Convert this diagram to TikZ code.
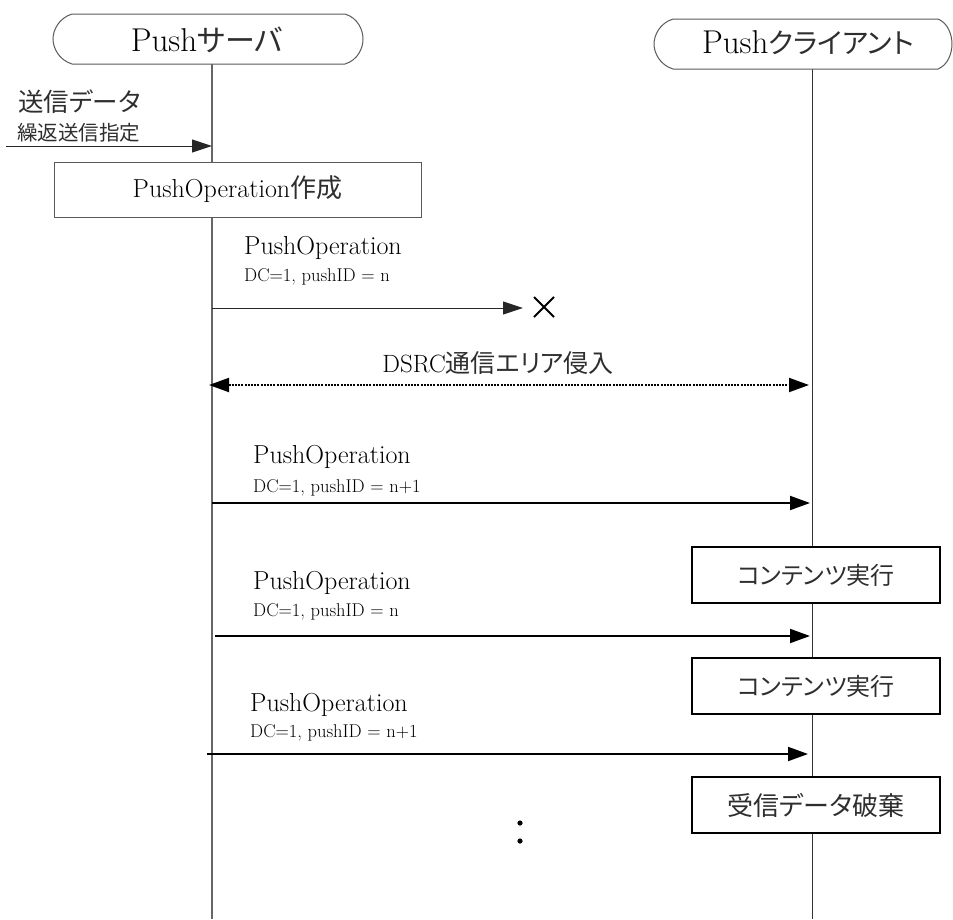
\documentclass[tikz,border=0pt]{standalone}
\usepackage{fontspec}
\newfontfamily\jpfont[RawFeature=+palt]{Noto Sans CJK JP}
\usetikzlibrary{arrows.meta,calc}
\newcommand\jptext[2]{{\fontsize{#1}{#1}\jpfont\color{black!82}#2}}
\newcommand\lat[1]{\fontsize{#1}{#1}\selectfont}
\definecolor{lgray}{HTML}{5A5A5A}
\tikzset{
  thinline/.style={draw=lgray,line width=1pt},
  msgthin/.style={draw=black!85,line width=1pt,-{Triangle[length=20pt,width=13pt]}},
  msgthick/.style={draw=black,line width=2pt,-{Triangle[length=20pt,width=14pt]}},
  msgdsrc/.style={draw=black,line width=2pt,dash pattern=on 2pt off 1.2pt,
     {Triangle[length=20pt,width=14pt]}-{Triangle[length=20pt,width=14pt]}},
  procthin/.style={draw=lgray,line width=1pt,fill=white,inner sep=0pt},
  procthick/.style={draw=black,line width=2pt,fill=white,inner sep=0pt},
  lbl/.style={anchor=west,inner sep=0pt},
}
\begin{document}
\begin{tikzpicture}[x=1pt,y=-1pt]
\useasboundingbox (0,0) rectangle (953,919);
% lifelines
\coordinate (stop) at (212,64);
\coordinate (sbot) at (212,919);
\coordinate (ctop) at (812,69);
\coordinate (cbot) at (812,919);
\draw[draw=black!60,line width=1.2pt] (stop) -- (sbot);
\draw[draw=black!80,line width=1pt] (ctop) -- (cbot);
% heads
\draw[thinline,fill=white] (72,14) -- (345,14) .. controls (358,18) and (363,30) .. (363,39)
   .. controls (363,48) and (358,60) .. (345,64) -- (72,64)
   .. controls (59,60) and (53,48) .. (53,39) .. controls (53,30) and (59,18) .. (72,14) -- cycle;
\node (server) at (207,40) {\lat{33}Push\jptext{30}{サーバ}};
\draw[thinline,fill=white] (673,19) -- (938,19) .. controls (948,23) and (952,35) .. (952,44)
   .. controls (952,53) and (948,65) .. (938,69) -- (673,69)
   .. controls (660,65) and (654,53) .. (654,44) .. controls (654,35) and (660,23) .. (673,19) -- cycle;
\node (client) at (808,43) {\lat{33}Push\jptext{28}{クライアント}};
% input
\coordinate (inA) at (6,146);
\coordinate (inB) at (212,146);
\draw[msgthin] (inA) -- (inB);
\node[lbl] (in1) at (18,102) {\jptext{25.5}{送信データ}};
\node[lbl] (in2) at (17,133) {\jptext{20.5}{繰返送信指定}};
% create box
\node[procthin,minimum width=367pt,minimum height=55pt] (create) at (237.5,189.5)
  {\lat{26}PushOperation\jptext{26}{作成}};
% message 1 (lost)
\coordinate (m1a) at (212,308);
\coordinate (m1b) at (523,308);
\draw[msgthin] (m1a) -- (m1b);
\node[lbl] (m1l) at (244,248) {\lat{26}PushOperation};
\node[lbl] (m1d) at (244,277) {\lat{18.5}DC=1, pushID = n};
\coordinate (lost) at (544,307);
\draw[line width=2pt] ($(lost)+(-10,-10)$) -- ($(lost)+(10,10)$);
\draw[line width=2pt] ($(lost)+(-10,10)$) -- ($(lost)+(10,-10)$);
% DSRC
\coordinate (da) at (209,385);
\coordinate (db) at (809,385);
\draw[msgdsrc] (da) -- (db);
\node (dl) at (498,363) {\lat{25}DSRC\jptext{25}{通信エリア侵入}};
% message 2
\coordinate (m2a) at (212,503);
\coordinate (m2b) at (810,503);
\draw[msgthick] (m2a) -- (m2b);
\node[lbl] (m2l) at (253,457) {\lat{26}PushOperation};
\node[lbl] (m2d) at (253,488) {\lat{18.5}DC=1, pushID = n+1};
\node[procthick,minimum width=248pt,minimum height=56pt] (exec1) at (816,575)
  {\jptext{24}{コンテンツ実行}};
% message 3
\coordinate (m3a) at (215,636);
\coordinate (m3b) at (810,636);
\draw[msgthick] (m3a) -- (m3b);
\node[lbl] (m3l) at (253,583) {\lat{26}PushOperation};
\node[lbl] (m3d) at (253,612) {\lat{18.5}DC=1, pushID = n};
\node[procthick,minimum width=248pt,minimum height=56pt] (exec2) at (816,686)
  {\jptext{24}{コンテンツ実行}};
% message 4
\coordinate (m4a) at (207,754);
\coordinate (m4b) at (808,754);
\draw[msgthick] (m4a) -- (m4b);
\node[lbl] (m4l) at (250,705) {\lat{26}PushOperation};
\node[lbl] (m4d) at (250,733) {\lat{18.5}DC=1, pushID = n+1};
\node[procthick,minimum width=248pt,minimum height=56pt] (discard) at (816,805)
  {\jptext{26}{受信データ破棄}};
% continuation dots
\fill (520,823) circle (2.6pt);
\fill (520,841) circle (2.6pt);
\end{tikzpicture}
\end{document}
